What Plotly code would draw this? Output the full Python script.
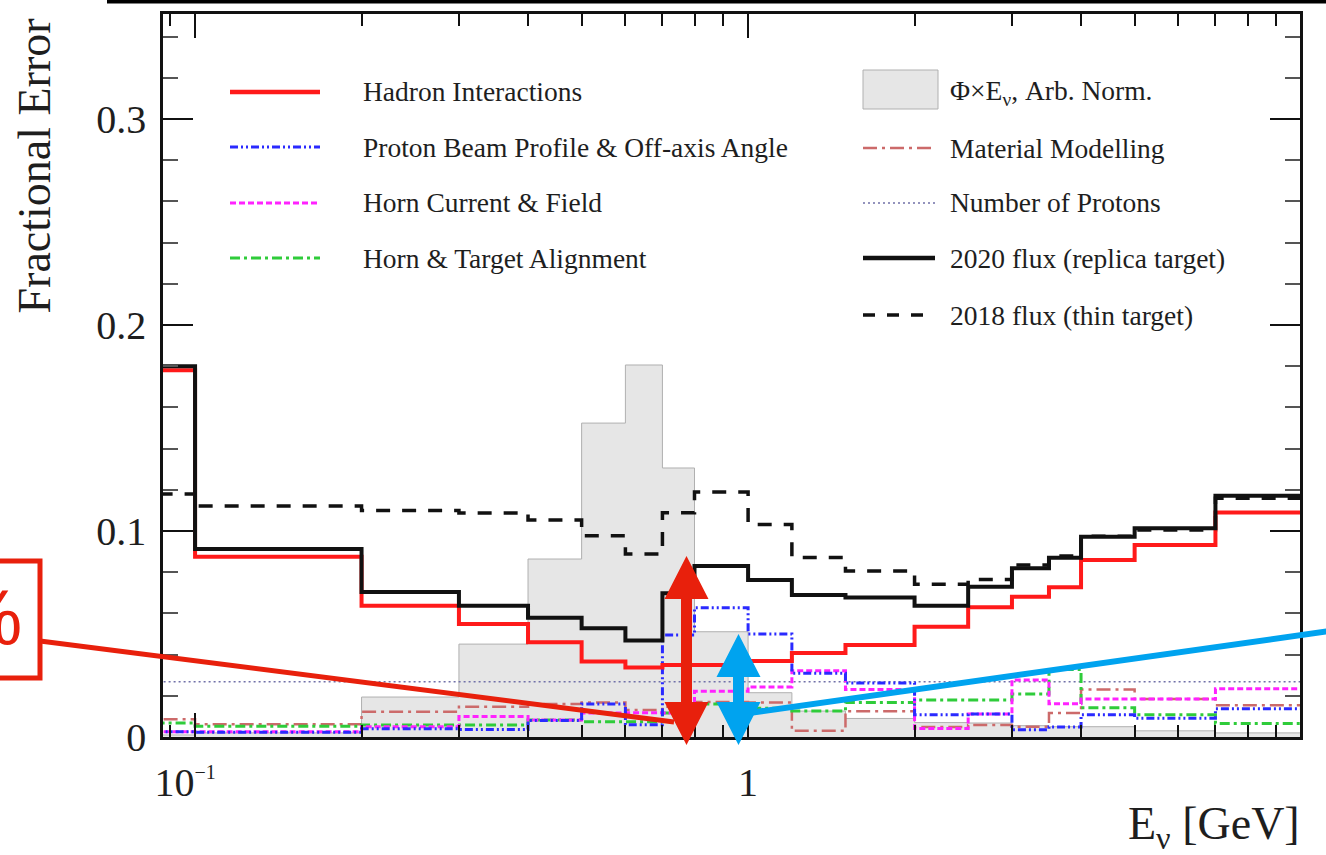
import plotly.graph_objects as go

# ---------------- data ----------------
# bin edges in GeV (first bin is 0-0.1 GeV; 0.05 stands in for 0 on the log axis)
bin_edges_gev = [0.05, 0.1, 0.2, 0.3, 0.4, 0.5, 0.6, 0.7, 0.8, 1.0, 1.2, 1.5,
                 2.0, 2.5, 3.0, 3.5, 4.0, 5.0, 7.0, 10.0]

flux_arb_norm = [0.001, 0.002, 0.0194, 0.0451, 0.0864, 0.1524, 0.1806, 0.1306, 0.0511,
                 0.0215, 0.0126, 0.0090, 0.0070, 0.0068, 0.0055, 0.0050, 0.0050, 0.0030, 0.0020]
hadron_interactions = [0.178, 0.0875, 0.0637, 0.0549, 0.0460, 0.0366, 0.0338, 0.0350, 0.0350,
                       0.0369, 0.0408, 0.0447, 0.0535, 0.0630, 0.0681, 0.0727, 0.0859, 0.0932, 0.1090]
flux_2020_replica = [0.180, 0.0913, 0.0704, 0.0637, 0.0579, 0.0528, 0.0468, 0.0698, 0.0830,
                     0.0762, 0.0689, 0.0677, 0.0637, 0.0730, 0.0819, 0.0870, 0.0972, 0.1013, 0.1171]
flux_2018_thin = [0.118, 0.1122, 0.1100, 0.1088, 0.1053, 0.0977, 0.0888, 0.1089, 0.1190,
                  0.1032, 0.0872, 0.0806, 0.0741, 0.0765, 0.0835, 0.0879, 0.0975, 0.1005, 0.1159]
proton_beam_offaxis = [0.0025, 0.0023, 0.0040, 0.0036, 0.0080, 0.0160, 0.0060, 0.0495, 0.0628,
                       0.0500, 0.0310, 0.0262, 0.0108, 0.0112, 0.0035, 0.0049, 0.0108, 0.0091, 0.0137]
horn_current_field = [0.0026, 0.0026, 0.0050, 0.0099, 0.0083, 0.0116, 0.0118, 0.0116, 0.0222,
                      0.0243, 0.0322, 0.0231, 0.0041, 0.0112, 0.0277, 0.0162, 0.0184, 0.0184, 0.0234]
horn_target_alignment = [0.0068, 0.0052, 0.0058, 0.0058, 0.0083, 0.0074, 0.0074, 0.0116, 0.0160,
                         0.0140, 0.0126, 0.0167, 0.0180, 0.0180, 0.0209, 0.0328, 0.0142, 0.0108, 0.0066]
material_modelling = [0.0086, 0.0062, 0.0123, 0.0147, 0.0160, 0.0167, 0.0131, 0.0147, 0.0170,
                      0.0167, 0.0030, 0.0125, 0.0048, 0.0058, 0.0050, 0.0116, 0.0230, 0.0184, 0.0154]
number_of_protons = [0.0268] * 19

x_tick_vals = [0.1, 1, 10]
x_tick_text = ["10<sup><span style='font-size:20px'>\u22121</span></sup>\u00a0\u00a0", "1", "10"]
x_minor_vals = [0.09, 0.2, 0.3, 0.4, 0.5, 0.6, 0.7, 0.8, 0.9, 2, 3, 4, 5, 6, 7, 8, 9]
y_tick_vals = [0, 0.1, 0.2, 0.3]
y_tick_text = ["0", "0.1", "0.2", "0.3"]

# ---------------- layout geometry (pixels) ----------------
W, H = 1326, 855
L, R, T, B = 163, 1300, 14, 737
SERIF = "Liberation Serif"
TXT = "#1e1e1e"


def px(x):
    return (x - L) / (R - L)


def py(y):
    return (B - y) / (B - T)


def step_y(vals):
    return list(vals) + [vals[-1]]


fig = go.Figure()

# flux shape (filled)
fig.add_trace(go.Scatter(x=bin_edges_gev, y=step_y(flux_arb_norm), mode="lines",
                         line=dict(shape="hv", color="#b0b0b0", width=1),
                         fill="tozeroy", fillcolor="#e6e6e6", showlegend=False))

styles = [
    (number_of_protons, "#7070a8", 1.5, "2px,3px"),
    (material_modelling, "#cc6a6a", 2.5, "14px,5px,3px,5px"),
    (horn_target_alignment, "#2fcc3a", 3, "10px,4px,3px,4px"),
    (horn_current_field, "#ff22ff", 3, "6px,3px"),
    (proton_beam_offaxis, "#2a2aff", 3, "8px,3px,2px,3px,2px,3px"),
    (flux_2018_thin, "#111111", 3.5, "14px,12px"),
    (hadron_interactions, "#ff1a1a", 4, "solid"),
    (flux_2020_replica, "#111111", 4, "solid"),
]
for vals, col, w, dash in styles:
    fig.add_trace(go.Scatter(x=bin_edges_gev, y=step_y(vals), mode="lines",
                             line=dict(shape="hv", color=col, width=w, dash=dash),
                             showlegend=False))

shapes = []
annotations = []

# ---------------- manual legend ----------------
left_rows = [
    ("Hadron Interactions", "#ff1a1a", 4.5, "solid"),
    ("Proton Beam Profile & Off-axis Angle", "#2a2aff", 3, "8px,3px,2px,3px,2px,3px"),
    ("Horn Current & Field", "#ff22ff", 3, "6px,3px"),
    ("Horn & Target Alignment", "#2fcc3a", 3, "10px,4px,3px,4px"),
]
left_y = [92, 147, 203, 258]
for (txt, col, w, dash), yy in zip(left_rows, left_y):
    shapes.append(dict(type="line", xref="paper", yref="paper", x0=px(230), x1=px(320),
                       y0=py(yy), y1=py(yy), line=dict(color=col, width=w, dash=dash)))
    annotations.append(dict(text=txt, xref="paper", yref="paper", x=px(361), y=py(yy),
                            xanchor="left", yanchor="middle", showarrow=False,
                            font=dict(family=SERIF, size=27.5, color=TXT)))

shapes.append(dict(type="rect", xref="paper", yref="paper", x0=px(863), x1=px(938),
                   y0=py(109), y1=py(70), fillcolor="#e6e6e6",
                   line=dict(color="#b0b0b0", width=1)))
annotations.append(dict(text="\u03a6\u00d7E<sub>\u03bd</sub>, Arb. Norm.", xref="paper", yref="paper",
                        x=px(948), y=py(93), xanchor="left", yanchor="middle", showarrow=False,
                        font=dict(family=SERIF, size=27.5, color=TXT)))
right_rows = [
    ("Material Modelling", "#cc6a6a", 2.5, "14px,5px,3px,5px"),
    ("Number of Protons", "#7070a8", 1.5, "2px,3px"),
    ("2020 flux (replica target)", "#111111", 4.5, "solid"),
    ("2018 flux (thin target)", "#111111", 3.5, "12px,12px"),
]
right_y = [148, 203, 258, 315]
for (txt, col, w, dash), yy in zip(right_rows, right_y):
    shapes.append(dict(type="line", xref="paper", yref="paper", x0=px(863), x1=px(935),
                       y0=py(yy), y1=py(yy), line=dict(color=col, width=w, dash=dash)))
    annotations.append(dict(text=txt, xref="paper", yref="paper", x=px(948), y=py(yy),
                            xanchor="left", yanchor="middle", showarrow=False,
                            font=dict(family=SERIF, size=27.5, color=TXT)))

# ---------------- axis titles ----------------
annotations.append(dict(text="Fractional Error", xref="paper", yref="paper",
                        x=px(34), y=py(17), xanchor="center", yanchor="top",
                        textangle=-90, showarrow=False,
                        font=dict(family=SERIF, size=46, color=TXT)))
annotations.append(dict(text="E<sub>\u03bd</sub> [GeV]", xref="paper", yref="paper",
                        x=px(1302), y=py(858), xanchor="right", yanchor="bottom",
                        showarrow=False, font=dict(family=SERIF, size=46, color=TXT)))

# ---------------- overlay annotations (arrows, callout lines) ----------------
RED = "#e8200c"
BLUE = "#00a3ef"


def double_arrow(cx, top, bot, hw, hh, sw, color):
    pts = [(cx, top), (cx + hw, top + hh), (cx + sw, top + hh), (cx + sw, bot - hh),
           (cx + hw, bot - hh), (cx, bot), (cx - hw, bot - hh), (cx - sw, bot - hh),
           (cx - sw, top + hh), (cx - hw, top + hh)]
    path = "M " + " L ".join(f"{px(a):.5f},{py(b):.5f}" for a, b in pts) + " Z"
    return dict(type="path", xref="paper", yref="paper", path=path,
                fillcolor=color, line=dict(color=color, width=0), layer="above")


shapes.append(dict(type="line", xref="paper", yref="paper", x0=px(40), y0=py(641),
                   x1=px(674), y1=py(722), line=dict(color=RED, width=5), layer="above"))
shapes.append(dict(type="line", xref="paper", yref="paper", x0=px(742), y0=py(714),
                   x1=px(1330), y1=py(631), line=dict(color=BLUE, width=6), layer="above"))
shapes.append(double_arrow(686.5, 556, 745, 22, 43, 5.5, RED))
shapes.append(double_arrow(738.5, 634, 745, 22, 43, 5.5, BLUE))
shapes.append(dict(type="rect", xref="paper", yref="paper", x0=px(-120), x1=px(40),
                   y0=py(678), y1=py(561), line=dict(color=RED, width=5), layer="above"))
annotations.append(dict(text="%", xref="paper", yref="paper", x=px(24), y=py(618),
                        xanchor="right", yanchor="middle", showarrow=False,
                        font=dict(family="Liberation Sans", size=78, color=RED)))

# top black bar
shapes.append(dict(type="rect", xref="paper", yref="paper", x0=px(107), x1=px(1330),
                   y0=py(3.5), y1=py(-2), fillcolor="black", line=dict(width=0), layer="above"))

fig.update_layout(
    width=W, height=H,
    margin=dict(l=L, r=W - R, t=T, b=H - B, pad=0),
    paper_bgcolor="white", plot_bgcolor="white",
    showlegend=False,
    shapes=shapes, annotations=annotations,
    xaxis=dict(type="log", range=[-1.058, 0.998], showgrid=False, zeroline=False,
               showline=True, linecolor="#111111", linewidth=2.5, mirror="ticks",
               ticks="inside", ticklen=24, tickwidth=2, tickcolor="#111111",
               tickmode="array", tickvals=x_tick_vals, ticktext=x_tick_text,
               tickfont=dict(family=SERIF, size=40, color=TXT),
               ticklabelstandoff=8,
               minor=dict(ticks="inside", ticklen=12, tickwidth=1.5, tickcolor="#111111",
                          tickmode="array", tickvals=x_minor_vals, showgrid=False)),
    yaxis=dict(range=[0, 0.351], showgrid=False, zeroline=False,
               showline=True, linecolor="#111111", linewidth=2.5, mirror="ticks",
               ticks="inside", ticklen=30, tickwidth=2, tickcolor="#111111",
               tickmode="array", tickvals=y_tick_vals, ticktext=y_tick_text,
               tickfont=dict(family=SERIF, size=40, color=TXT),
               ticklabelstandoff=6,
               minor=dict(ticks="inside", ticklen=15, tickwidth=1.5, tickcolor="#555555",
                          dtick=0.02, tick0=0, showgrid=False)),
)

fig.write_html(
    "out.html",
    config={"displayModeBar": False},
    post_script="document.body.style.margin='0';document.body.style.padding='0';",
)
